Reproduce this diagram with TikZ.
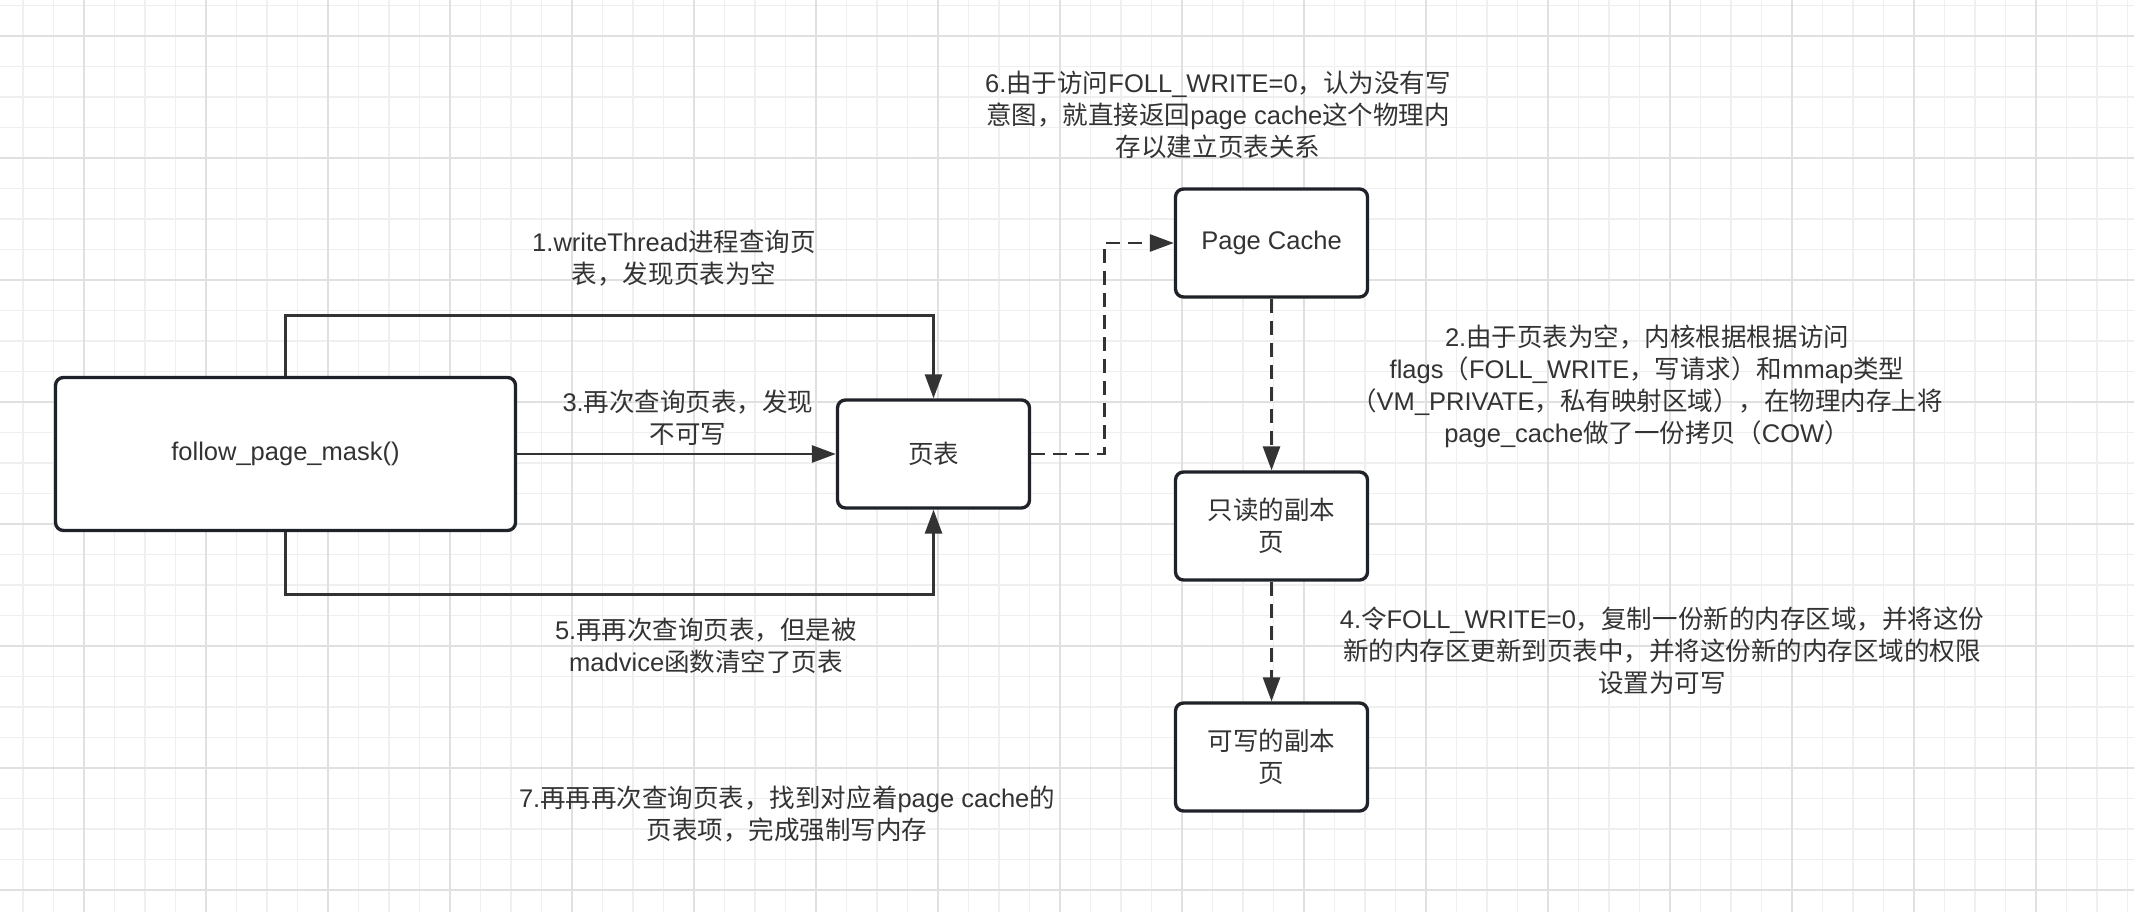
\documentclass[tikz,border=0pt]{standalone}
\usepackage{fontspec}
\setmainfont{Liberation Sans}
\newfontfamily\zhfont{Noto Sans CJK SC}
\newcommand{\zh}[1]{{\zhfont #1}}
\usepackage{xcolor}
\usepackage{tikz}
\usetikzlibrary{
  arrows.meta,
  calc,
  positioning
}
\definecolor{gridminor}{HTML}{EFEFEF}
\definecolor{gridmajor}{HTML}{E0E0E0}
\definecolor{boxline}{HTML}{1F2329}
\definecolor{flowline}{HTML}{333333}
\definecolor{labeltext}{HTML}{333333}
\tikzset{>={Triangle[length=0.24cm,width=0.17cm]}}
\tikzset{
  minorgrid/.style={draw=gridminor, line width=0.37pt},
  majorgrid/.style={draw=gridmajor, line width=0.57pt},
  pagebox/.style={draw=boxline, line width=0.95pt, rounded corners=0.08cm,
    fill=white, align=center, inner sep=0pt, text=labeltext},
  smallbox/.style={pagebox, minimum width=1.92cm, minimum height=1.08cm},
  steplabel/.style={align=center, inner sep=0pt, text=labeltext},
  flow/.style={draw=flowline, line width=0.78pt, ->},
  dashflow/.style={flow, dash pattern=on 0.14cm off 0.08cm}
}

\begin{document}
\begin{tikzpicture}[font=\fontsize{7.26pt}{9.1pt}\selectfont]
	\useasboundingbox (0,0) rectangle (21.34,9.12);
	\fill[white] (0,0) rectangle (21.34,9.12);
	% background grid
	\foreach \i in {0,...,69}
		\draw[minorgrid] ({0.23+0.305*\i},0) -- ++(0,9.12);
	\foreach \j in {0,...,29}
		\draw[minorgrid] (0,{0.22+0.305*\j}) -- ++(21.34,0);
	\foreach \i in {0,...,16}
		\draw[majorgrid] ({0.84+1.22*\i},0) -- ++(0,9.12);
	\foreach \j in {0,...,7}
		\draw[majorgrid] (0,{0.22+1.22*\j}) -- ++(21.34,0);
	% boxes
	\node[pagebox, minimum width=4.6cm, minimum height=1.53cm] (follow) at (2.855,4.58) {follow\_page\_mask()};
	\node[smallbox] (pt) at (9.335,4.58) {\zh{页表}};
	\node[smallbox] (pc) at (12.715,6.69) {Page Cache};
	\node[smallbox] (ro) at (12.715,3.86) {\zh{只读的副本}\\\zh{页}};
	\node[smallbox] (rw) at (12.715,1.55) {\zh{可写的副本}\\\zh{页}};
	% connectors
	\draw[flow] (follow.north) -- ++(0,0.6) -| (pt.north);
	\draw[flow] (follow.east) -- (pt.west);
	\draw[flow] (follow.south) -- ++(0,-0.62) -| (pt.south);
	\draw[dashflow] (pt.east) -- ++(0.73,0) |- (pc.west);
	\draw[dashflow] (pc.south) -- (ro.north);
	\draw[dashflow] (ro.south) -- (rw.north);
	% step labels
	\node[steplabel] (lab1) at (6.74,6.535) {1.writeThread\zh{进程查询页}\\\zh{表，发现页表为空}};
	\node[steplabel] (lab2) at (16.47,5.255) {2.\zh{由于页表为空，内核根据根据访问}\\flags\zh{（}FOLL\_WRITE\zh{，写请求）和}mmap\zh{类型}\\\zh{（}VM\_PRIVATE\zh{，私有映射区域），在物理内存上将}\\page\_cache\zh{做了一份拷贝（}COW\zh{）}};
	\node[steplabel] (lab3) at (6.88,4.945) {3.\zh{再次查询页表，发现}\\\zh{不可写}};
	\node[steplabel] (lab4) at (16.62,2.615) {4.\zh{令}FOLL\_WRITE=0\zh{，复制一份新的内存区域，并将这份}\\\zh{新的内存区更新到页表中，并将这份新的内存区域的权限}\\\zh{设置为可写}};
	\node[steplabel] (lab5) at (7.06,2.665) {5.\zh{再再次查询页表，但是被}\\madvice\zh{函数清空了页表}};
	\node[steplabel] (lab6) at (12.18,7.97) {6.\zh{由于访问}FOLL\_WRITE=0\zh{，认为没有写}\\\zh{意图，就直接返回}page cache\zh{这个物理内}\\\zh{存以建立页表关系}};
	\node[steplabel] (lab7) at (7.87,0.98) {7.\zh{再再再次查询页表，找到对应着}page cache\zh{的}\\\zh{页表项，完成强制写内存}};
\end{tikzpicture}
\end{document}
